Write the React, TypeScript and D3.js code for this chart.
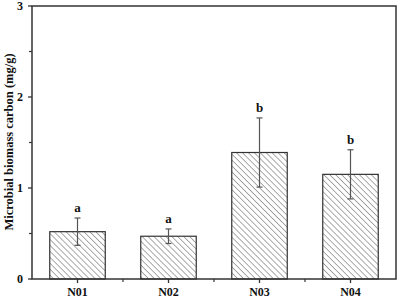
import React from "react";
import * as d3 from "d3";

const categories = ["N01", "N02", "N03", "N04"];
const means = [0.52, 0.47, 1.39, 1.15];
const errors = [0.15, 0.08, 0.38, 0.27];
const letters = ["a", "a", "b", "b"];
const yTicks = [0, 1, 2, 3];
const yMinorTicks = [0.5, 1.5, 2.5];

const W = 400, H = 300;
const left = 32, right = 396, top = 6, bottom = 279;
const FONT = "'Liberation Serif', 'Times New Roman', serif";

export default function App() {
  const x = d3.scaleBand<string>().domain(categories).range([left, right]).paddingInner(0.39).paddingOuter(0.195);
  const xc = d3.scaleBand<string>().domain(categories).range([left, right]);
  const y = d3.scaleLinear().domain([0, 3]).range([bottom, top]);
  const axisColor = "#333";
  const between = categories.slice(1).map((c) => xc(c)!);

  return (
    <svg width={W} height={H} style={{ position: "absolute", left: 0, top: 0, background: "#fff" }}>
      <defs>
        <pattern id="hatch" patternUnits="userSpaceOnUse" width={4.2} height={4.2} patternTransform="rotate(-45)">
          <line x1={0} y1={0} x2={0} y2={4.2} stroke="#555" strokeWidth={1} />
        </pattern>
      </defs>
      <rect x={0} y={0} width={W} height={H} fill="#fff" />
      {categories.map((c, i) => {
        const bx = x(c)!;
        const bw = x.bandwidth();
        const cx = bx + bw / 2;
        const yt = y(means[i] + errors[i]);
        const yb = y(means[i] - errors[i]);
        return (
          <g key={c}>
            <rect x={bx} y={y(means[i])} width={bw} height={bottom - y(means[i])} fill="url(#hatch)" stroke="#333" strokeWidth={1.2} />
            <line x1={cx} x2={cx} y1={yt} y2={yb} stroke="#555" strokeWidth={1.2} />
            <line x1={cx - 3} x2={cx + 3} y1={yt} y2={yt} stroke="#555" strokeWidth={1.2} />
            <line x1={cx - 3} x2={cx + 3} y1={yb} y2={yb} stroke="#555" strokeWidth={1.2} />
            <text x={cx} y={yt - 6} textAnchor="middle" fontFamily={FONT} fontWeight="bold" fontSize={13} fill="#111">
              {letters[i]}
            </text>
            <line x1={cx} x2={cx} y1={bottom} y2={bottom + 4} stroke={axisColor} strokeWidth={1.3} />
            <text x={cx} y={bottom + 17} textAnchor="middle" fontFamily={FONT} fontWeight="bold" fontSize={12} fill="#111">
              {c}
            </text>
          </g>
        );
      })}
      {between.map((bx, i) => (
        <line key={"m" + i} x1={bx} x2={bx} y1={bottom} y2={bottom + 3} stroke={axisColor} strokeWidth={1.2} />
      ))}
      {yTicks.map((t) => (
        <g key={"y" + t}>
          <line x1={left - 4} x2={left} y1={y(t)} y2={y(t)} stroke={axisColor} strokeWidth={1.3} />
          <text x={left - 9} y={y(t) + 4} textAnchor="end" fontFamily={FONT} fontWeight="bold" fontSize={12} fill="#111">
            {t}
          </text>
        </g>
      ))}
      {yMinorTicks.map((t) => (
        <line key={"ym" + t} x1={left - 3} x2={left} y1={y(t)} y2={y(t)} stroke={axisColor} strokeWidth={1.2} />
      ))}
      <rect x={left} y={top} width={right - left} height={bottom - top} fill="none" stroke={axisColor} strokeWidth={1.5} />
      <text
        transform={`translate(${13},${142}) rotate(-90)`}
        textAnchor="middle"
        fontFamily={FONT}
        fontWeight="bold"
        fontSize={12.5}
        fill="#111"
      >
        Microbial biomass carbon (mg/g)
      </text>
    </svg>
  );
}
